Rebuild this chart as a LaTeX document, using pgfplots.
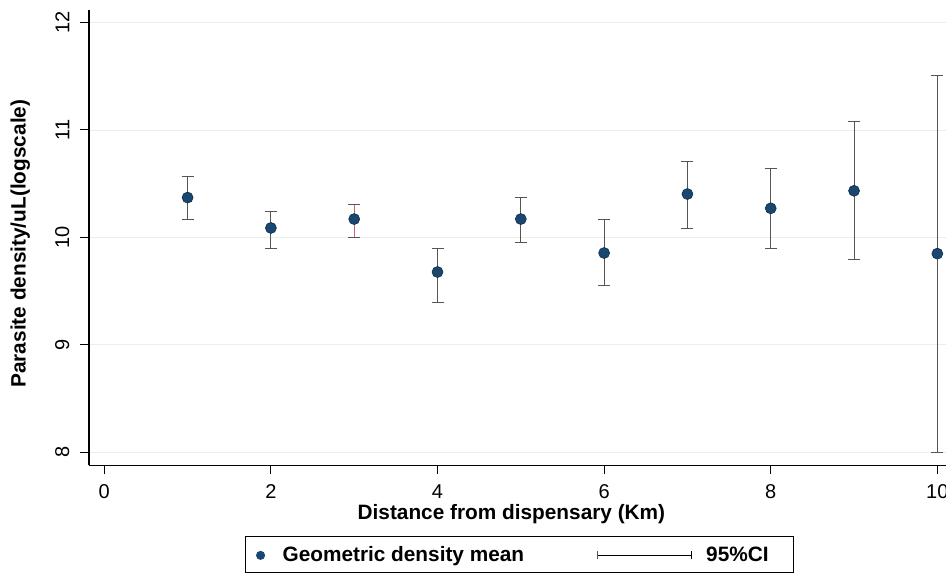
\documentclass[border=0pt]{standalone}
\usepackage{fontspec}
\setmainfont{Liberation Sans}
\usepackage{pgfplots}
\usepackage{pgfplotstable}
\pgfplotsset{compat=1.18}
\definecolor{stnavy}{HTML}{1A476F}
\definecolor{stnavyd}{HTML}{0F2C48}
\definecolor{gridc}{HTML}{EEEEE4}
\definecolor{cigray}{HTML}{555555}
\definecolor{cired}{HTML}{C8646E}

% distance, geometric mean, lower and upper 95% CI (log scale)
\pgfplotstableread{
x  y      lo     hi
1  10.370 10.164 10.567
2  10.087 9.900  10.242
3  10.170 10.000 10.306
4  9.677  9.390  9.900
5  10.170 9.950  10.370
6  9.854  9.547  10.164
7  10.403 10.084 10.710
8  10.270 9.900  10.640
9  10.433 9.795  11.075
10 9.848  8.000  11.507
}\gm

\begin{document}
\begin{tikzpicture}
\begin{axis}[
  x=83.3pt, y=107.4pt,
  xmin=-0.184, xmax=10.3,
  ymin=7.879, ymax=12.118,
  axis x line*=bottom, axis y line*=left,
  axis line style={black, line width=1.2pt},
  tick align=outside, major tick length=9pt,
  tick style={black, line width=1pt},
  xtick={0,2,...,10}, ytick={8,9,10,11,12},
  ymajorgrids, major grid style={color=gridc, line width=0.8pt},
  /pgf/number format/assume math mode=true,
  ticklabel style={font=\fontsize{20}{24}\selectfont},
  yticklabel style={rotate=90, anchor=south},
  yticklabel shift=7pt, xticklabel shift=7pt,
  label style={font=\fontsize{20.8}{25}\selectfont\bfseries},
  xlabel={Distance from dispensary (Km)},
  ylabel={Parasite density/uL(logscale)},
  xlabel style={at={(axis description cs:0.4837,-0.1071)}, anchor=center},
  ylabel style={at={(axis description cs:-0.0786,0.4865)}, anchor=center},
  legend columns=2,
  legend style={
    at={(axis description cs:0.1793,-0.1558)}, anchor=north west,
    draw=black, line width=1pt, fill=white,
    inner xsep=0pt, inner ysep=0pt, outer sep=0pt, column sep=0pt,
    nodes={inner sep=0pt, text height=25.3pt, text depth=11.3pt,
           font=\fontsize{20.8}{25}\selectfont\bfseries},
  },
  legend cell align=left,
]
\addlegendimage{legend image code/.code={
  \path[draw=none] (-15pt,0pt) -- (22pt,0pt);
  \fill[stnavy] (0pt,-1pt) circle (4pt);}}
\addlegendentry{Geometric density mean}
\addlegendimage{legend image code/.code={
  \path[draw=none] (-73pt,0pt) -- (109pt,0pt);
  \draw[black, line width=1.6pt] (0pt,-1pt) -- (94pt,-1pt);
  \draw[cigray, line width=1pt] (0pt,-5pt) -- (0pt,3pt);
  \draw[black, line width=1pt] (94pt,-5pt) -- (94pt,3pt);}}
\addlegendentry{95\%CI\hspace*{25pt}}

\addplot[forget plot, only marks, mark=none,
  skip coords between index={2}{3},
  error bars/.cd, y dir=both, y explicit,
  error bar style={cigray, line width=1pt},
  error mark options={rotate=90, mark size=6pt, cigray, line width=1pt}]
  table[x=x, y=y, y error plus expr=\thisrow{hi}-\thisrow{y},
        y error minus expr=\thisrow{y}-\thisrow{lo}] {\gm};
\addplot[forget plot, only marks, mark=none,
  restrict x to domain=2.5:3.5,
  error bars/.cd, y dir=both, y explicit,
  error bar style={cired, line width=1pt},
  error mark options={rotate=90, mark size=6pt, cigray, line width=1pt}]
  table[x=x, y=y, y error plus expr=\thisrow{hi}-\thisrow{y},
        y error minus expr=\thisrow{y}-\thisrow{lo}] {\gm};
\addplot[forget plot, only marks, mark=*, mark size=5.5pt,
  mark options={fill=stnavy, draw=stnavyd, line width=0.6pt}]
  table[x=x, y=y] {\gm};

\coordinate (bbsw) at (axis cs:-1.252,6.856);
\coordinate (bbne) at (axis cs:10.104,12.2095);
\end{axis}
\pgfresetboundingbox
\path[use as bounding box] (bbsw) rectangle (bbne);
\end{tikzpicture}
\end{document}
